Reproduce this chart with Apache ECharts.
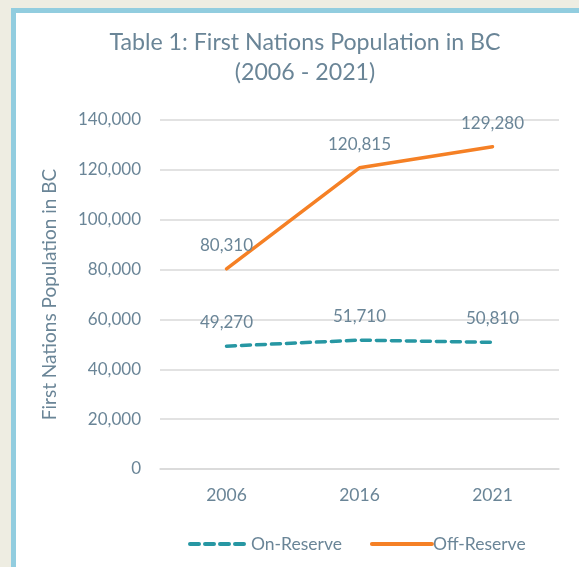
<!DOCTYPE html>
<html>
<head>
<meta charset="utf-8">
<style>
  html, body { margin: 0; padding: 0; background: #eeede2; width: 579px; height: 567px; overflow: hidden; }
  #frame { position: absolute; left: 11px; top: 8px; width: 600px; height: 600px; background: #fff;
           border-top: 5px solid #92cddf; border-left: 5px solid #92cddf; }
  #chart { position: absolute; left: 0; top: 0; width: 579px; height: 567px; }
</style>
<script src="https://cdn.jsdelivr.net/npm/echarts@6/dist/echarts.min.js"></script>
</head>
<body>
<div id="frame"></div>
<div id="chart"></div>
<script>
const years = ["2006", "2016", "2021"];
const onReserve = [49270, 51710, 50810];
const offReserve = [80310, 120815, 129280];

const textColor = "#6a8597";
const font = "Lato, 'Open Sans', sans-serif";
const chart = echarts.init(document.getElementById("chart"));

function labelStyle() {
  return {
    show: true,
    position: "top",
    distance: 15,
    color: textColor,
    fontFamily: font,
    fontSize: 17,
    formatter: (p) => p.value.toLocaleString("en-US"),
  };
}

chart.setOption({
  backgroundColor: "transparent",
  textStyle: { fontFamily: font },
  title: {
    text: "Table 1: First Nations Population in BC\n(2006 - 2021)",
    left: 300,
    top: 23,
    textAlign: "center",
    textStyle: { color: textColor, fontSize: 23.2, fontWeight: "normal", lineHeight: 30, fontFamily: font },
  },
  legend: {
    top: 530,
    left: 183,
    itemWidth: 60,
    itemHeight: 14,
    itemGap: 28,
    itemStyle: { opacity: 0 },
    lineStyle: { width: 4, cap: "round" },
    textStyle: { color: textColor, fontSize: 17.5, fontFamily: font, padding: [0, 0, 0, -4] },
    data: ["On-Reserve", "Off-Reserve"],
  },
  grid: { left: 160, right: 20, top: 120, bottom: 98 },
  xAxis: {
    type: "category",
    data: years,
    axisLine: { lineStyle: { color: "#d9d9d9", width: 1.5 } },
    axisTick: { show: false },
    axisLabel: { color: textColor, fontSize: 17.5, margin: 17, fontFamily: font },
  },
  yAxis: {
    type: "value",
    min: 0,
    max: 140000,
    interval: 20000,
    name: "First Nations Population in BC",
    nameLocation: "middle",
    nameGap: 101,
    nameTextStyle: { color: textColor, fontSize: 19, fontFamily: font },
    axisLine: { show: false },
    axisTick: { show: false },
    axisLabel: {
      color: textColor,
      fontSize: 17,
      margin: 19,
      fontFamily: font,
      formatter: (v) => v.toLocaleString("en-US"),
    },
    splitLine: { lineStyle: { color: "#d9d9d9", width: 1.5 } },
  },
  series: [
    {
      name: "On-Reserve",
      type: "line",
      data: onReserve,
      symbol: "circle",
      symbolSize: 0.1,
      showSymbol: true,
      color: "#2797a3",
      lineStyle: { width: 3.5, type: [9, 6], cap: "round" },
      label: labelStyle(),
    },
    {
      name: "Off-Reserve",
      type: "line",
      data: offReserve,
      symbol: "circle",
      symbolSize: 0.1,
      showSymbol: true,
      color: "#f58025",
      lineStyle: { width: 3.5, cap: "round" },
      label: labelStyle(),
    },
  ],
});
</script>
</body>
</html>
